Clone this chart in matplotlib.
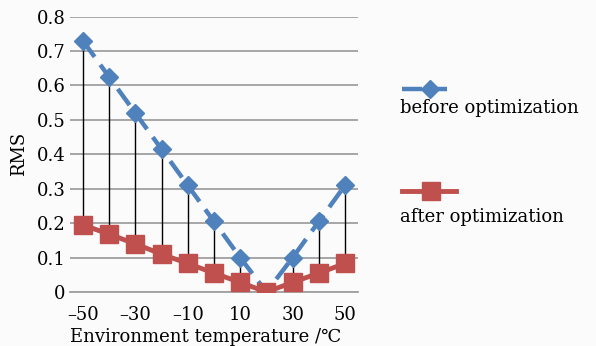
import matplotlib.pyplot as plt
from matplotlib.lines import Line2D

temps = [-50, -40, -30, -20, -10, 0, 10, 20, 30, 40, 50]
rms_before = [0.73, 0.625, 0.52, 0.415, 0.31, 0.205, 0.10, 0.0, 0.10, 0.205, 0.31]
rms_after = [0.195, 0.168, 0.14, 0.11, 0.083, 0.055, 0.028, 0.0, 0.028, 0.055, 0.083]
xtick_labels = [-50, -30, -10, 10, 30, 50]
ytick_labels = [0, 0.1, 0.2, 0.3, 0.4, 0.5, 0.6, 0.7, 0.8]

plt.rcParams['font.family'] = ['DejaVu Serif', 'DejaVu Sans']
plt.rcParams['font.size'] = 13

blue = '#4f81bd'
red = '#c0504d'

fig = plt.figure(figsize=(5.96, 3.46), dpi=100, facecolor='#fbfbfb')
ax = fig.add_axes([0.117, 0.156, 0.484, 0.796])
ax.set_facecolor('#fbfbfb')

# high-low lines between the two series
ax.vlines(temps, rms_after, rms_before, color='black', lw=1, zorder=2)

ax.plot(temps, rms_before, color=blue, lw=3.2, dashes=(4.5, 2.2),
        marker='D', markersize=9, zorder=3)
ax.plot(temps, rms_after, color=red, lw=3.5,
        marker='s', markersize=12.5, zorder=4)

ax.set_xlim(-55, 55)
ax.set_ylim(0, 0.8)
ax.set_xticks(xtick_labels)
ax.set_xticklabels([('\u2013' + str(-v)) if v < 0 else str(v) for v in xtick_labels])
ax.set_yticks(ytick_labels)
ax.set_yticklabels(['0' if v == 0 else f'{v:.1f}' for v in ytick_labels])
ax.tick_params(axis='x', length=0, pad=10)
ax.tick_params(axis='y', length=0, pad=3)
ax.grid(axis='y', color='#a0a0a0', lw=1.3)
ax.set_axisbelow(True)
for side in ['top', 'right', 'left']:
    ax.spines[side].set_visible(False)
ax.spines['bottom'].set_color('#a0a0a0')
ax.spines['bottom'].set_linewidth(1.3)

ax.set_ylabel('RMS', labelpad=6)
ax.set_xlabel('Environment temperature /\u2103', labelpad=0)
ax.xaxis.set_label_coords(0.47, -0.13)

# legend, key above text
fig.add_artist(Line2D([402 / 596, 447 / 596], [1 - 89 / 346] * 2, color=blue, lw=3.2,
                      dashes=(4.5, 2.2), transform=fig.transFigure))
fig.add_artist(Line2D([430 / 596], [1 - 89 / 346], color=blue, marker='D', markersize=9,
                      transform=fig.transFigure))
fig.text(400 / 596, 1 - 108 / 346, 'before optimization', va='center', ha='left')

fig.add_artist(Line2D([402 / 596, 456 / 596], [1 - 191 / 346] * 2, color=red, lw=3.5,
                      transform=fig.transFigure))
fig.add_artist(Line2D([431 / 596], [1 - 191 / 346], color=red, marker='s', markersize=12.5,
                      transform=fig.transFigure))
fig.text(400 / 596, 1 - 217 / 346, 'after optimization', va='center', ha='left')

fig.savefig('out.png', dpi=100, facecolor=fig.get_facecolor())
